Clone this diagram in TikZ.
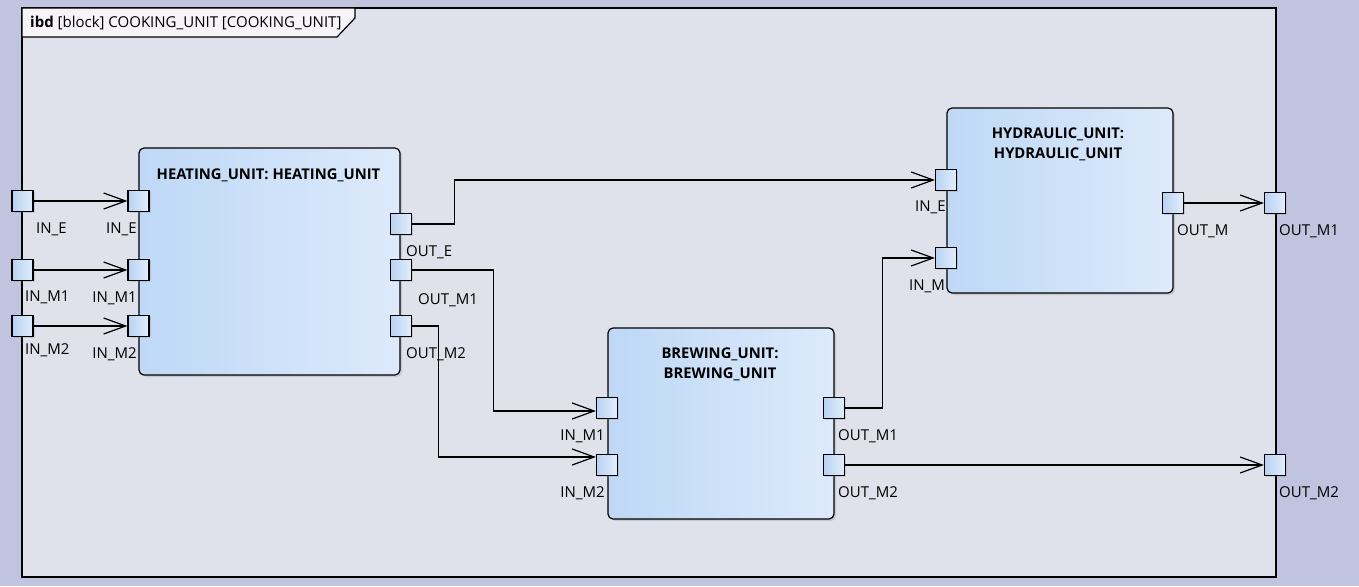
\documentclass[tikz,border=0pt]{standalone}
\usepackage{fontspec}
\setmainfont{Open Sans}
\usetikzlibrary{arrows.meta,shadows}
\definecolor{bgouter}{RGB}{193,196,222}
\definecolor{bgframe}{RGB}{224,226,235}
\definecolor{tabfill}{RGB}{246,244,247}
\definecolor{blkleft}{RGB}{190,216,246}
\definecolor{blkright}{RGB}{221,234,251}
\definecolor{portleft}{RGB}{184,210,242}
\definecolor{portright}{RGB}{226,238,252}

\begin{document}
\begin{tikzpicture}[x=1pt,y=-1pt,font=\fontsize{15}{20}\selectfont,
	blk/.style={draw,line width=1.2pt,rounded corners=5pt,left color=blkleft,right color=blkright,inner sep=0,
		drop shadow={shadow xshift=2pt,shadow yshift=-2pt,opacity=0.25}},
	port/.style={draw,line width=1.2pt,minimum size=21pt,inner sep=0,left color=portleft,right color=portright,
		drop shadow={shadow xshift=1.5pt,shadow yshift=-1.5pt,opacity=0.25}},
	conn/.style={line width=1.2pt,-{Straight Barb[length=22pt,width=16pt]}},
	btitle/.style={font=\fontsize{14.8}{20}\selectfont\bfseries,align=center,inner sep=0},
	plbl/.style={inner sep=0}]
			\useasboundingbox (0,0) rectangle (1359,586);
			\fill[bgouter] (0,0) rectangle (1359,586);
			% diagram frame
			\draw[line width=1.6pt,fill=bgframe] (22,8) rectangle (1276,577);
			\draw[line width=1.2pt,fill=tabfill] (22,8) -- (355,8) -- (355,18) -- (337,37) -- (22,37) -- cycle;
			\node[anchor=base west,inner sep=0] (ttl) at (30,28) {\textbf{ibd} [block] COOKING\_UNIT [COOKING\_UNIT]};
			% port labels
			\foreach \nm/\px/\py/\tx in {fInE/36/233/IN\_E, fInM1/25/301/IN\_M1, fInM2/25/354/IN\_M2,
				hOutE/406/256/OUT\_E, hOutM1/418/304/OUT\_M1, hOutM2/406/358/OUT\_M2,
				bOutM1/838/440/OUT\_M1, bOutM2/838/497/OUT\_M2, yOutM/1177/235/OUT\_M,
				fOutM1/1279/235/OUT\_M1, fOutM2/1279/497/OUT\_M2, yInE/915/211/IN\_E, yInM/909/290/IN\_M}{
				\node[plbl,anchor=base west] (l\nm) at (\px,\py) {\tx};
			}
			\foreach \nm/\px/\py/\tx in {hInE/137/233/IN\_E, hInM1/137/302/IN\_M1, hInM2/137/358/IN\_M2,
				bInM1/605/440/IN\_M1, bInM2/605/497/IN\_M2}{
				\node[plbl,anchor=base east] (l\nm) at (\px,\py) {\tx};
			}
			% blocks
			\node[blk,minimum width=261pt,minimum height=227pt] (heat) at (269.5,261.5) {};
			\node[blk,minimum width=226pt,minimum height=191pt] (brew) at (721,423.5) {};
			\node[blk,minimum width=226pt,minimum height=185pt] (hydr) at (1060,200.5) {};
			\node[btitle,anchor=base] (heatT) at (268.5,179) {HEATING\_UNIT: HEATING\_UNIT};
			\node[btitle,anchor=north] (brewT) at (720,348) {BREWING\_UNIT:\\BREWING\_UNIT};
			\node[btitle,anchor=north] (hydrT) at (1058,128) {HYDRAULIC\_UNIT:\\HYDRAULIC\_UNIT};
			% ports
			\foreach \nm/\px/\py in {fInE/22.5/201, fInM1/22.5/270, fInM2/22.5/326,
				hInE/138.5/201, hInM1/138.5/270, hInM2/138.5/326,
				hOutE/401/224, hOutM1/401/270, hOutM2/401/326,
				bInM1/607/408, bInM2/607/465, bOutM1/834/408, bOutM2/834/465,
				yInE/946/180, yInM/946/258, yOutM/1173/203,
				fOutM1/1275/203, fOutM2/1275/465}{
				\node[port] (\nm) at (\px,\py) {};
			}
			% connectors
			\draw[conn] (fInE) -- (hInE);
			\draw[conn] (fInM1) -- (hInM1);
			\draw[conn] (fInM2) -- (hInM2);
			\draw[conn] (hOutE.east) -- ++(42,0) |- (yInE.west);
			\draw[conn] (hOutM1.east) -- ++(81,0) |- ([yshift=-3pt]bInM1.west);
			\draw[conn] (hOutM2.east) -- ++(26,0) |- ([yshift=8pt]bInM2.west);
			\draw[conn] (bOutM1.east) -- ++(37,0) |- (yInM.west);
			\draw[conn] (bOutM2) -- (fOutM2);
			\draw[conn] (yOutM) -- (fOutM1);
		\end{tikzpicture}
\end{document}
